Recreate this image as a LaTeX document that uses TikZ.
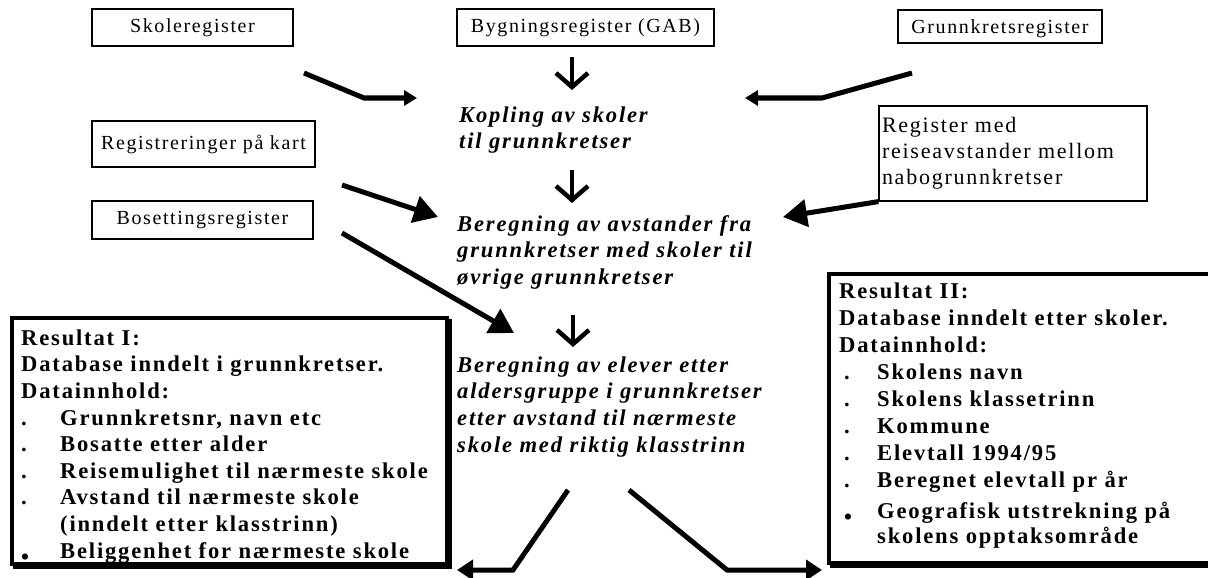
\documentclass[tikz,border=0pt]{standalone}
\usepackage{fontspec}
\setmainfont{Liberation Serif}[LetterSpace=8]
\usetikzlibrary{arrows.meta,calc}
\newcommand\topst{\vrule height 16pt depth 0pt width 0pt}
\newcommand\bulone[1]{\makebox[39pt][l]{#1}}
\newcommand\bultwo[1]{\makebox[38pt][l]{\hspace{5pt}#1}}
\newcommand\bigdot{\raisebox{-6pt}{•}}
\begin{document}
\begin{tikzpicture}[x=1pt,y=-1pt,
  regbox/.style={draw, line width=1.2pt, inner sep=0pt, font=\fontsize{20}{24}\selectfont},
  midtext/.style={anchor=north west, inner sep=0pt, align=left, font=\fontsize{22.6}{26.6}\selectfont\bfseries\itshape},
  restext/.style={anchor=north west, inner sep=0pt, align=left, font=\fontsize{22.6}{26.6}\selectfont\bfseries},
  resframe/.style={draw, line width=4pt, inner sep=0pt},
  elbow/.style={line width=5pt, -{Triangle[length=13pt,width=15pt]}},
  elbowlow/.style={line width=5pt, -{Triangle[length=16pt,width=20pt]}},
  bigarr/.style={line width=5pt, -{Triangle[length=24pt,width=27pt]}},
  downarr/.style={line width=4.5pt, line join=miter}
]
\useasboundingbox (0,0) rectangle (1208,578);
\clip (0,0) rectangle (1208,578);

% input registers
\node[regbox, minimum width=201pt, minimum height=37pt] (skole) at (192.5,27.5) {Skoleregister};
\node[regbox, minimum width=257pt, minimum height=37pt] (byg) at (585.5,27.5) {Bygningsregister (GAB)};
\node[regbox, minimum width=204pt, minimum height=33pt, text depth=0pt] (grunn) at (1000,26.5) {Grunnkretsregister};
\node[regbox, minimum width=223pt, minimum height=46pt] (regkart) at (203.5,144) {Registreringer på kart};
\node[regbox, minimum width=221pt, minimum height=38pt] (boset) at (202.5,220) {Bosettingsregister};
\node[regbox, font=\fontsize{22}{26}\selectfont, align=left, text width=262pt, inner xsep=3pt, minimum height=95pt] (regmed) at (1013,153.5) {Register med\\reiseavstander mellom\\nabogrunnkretser};

% processing steps
\node[midtext] (kop) at (459,106) {\topst Kopling av skoler\\til grunnkretser};
\node[midtext] (avst) at (457,215) {\topst Beregning av avstander fra\\grunnkretser med skoler til\\øvrige grunnkretser};
\node[midtext] (elev) at (457,356) {\topst Beregning av elever etter\\aldersgruppe i grunnkretser\\etter avstand til nærmeste\\skole med riktig klasstrinn};

% result boxes
\draw[line width=4pt] (15,321) rectangle (450,567);
\node[resframe, fill=white, minimum width=435pt, minimum height=246pt] (res1box) at (229.5,441) {};
\draw[line width=4pt] (832,277) rectangle (1223,566);
\node[resframe, fill=white, minimum width=391pt, minimum height=289pt] (res2box) at (1024.5,418.5) {};

\node[restext] (res1) at (21,329) {\topst Resultat I:\\Database inndelt i grunnkretser.\\Datainnhold:\\\bulone{.}Grunnkretsnr, navn etc\\\bulone{.}Bosatte etter alder\\\bulone{.}Reisemulighet til nærmeste skole\\\bulone{.}Avstand til nærmeste skole\\\bulone{}(inndelt etter klasstrinn)\\\bulone{\bigdot}Beliggenhet for nærmeste skole};
\node[restext, font=\fontsize{22.6}{27}\selectfont\bfseries] (res2) at (839,282) {\topst Resultat II:\\Database inndelt etter skoler.\\Datainnhold:\\\bultwo{.}Skolens navn\\\bultwo{.}Skolens klassetrinn\\\bultwo{.}Kommune\\\bultwo{.}Elevtall 1994/95\\\bultwo{.}Beregnet elevtall pr år\\[4pt]\bultwo{\bigdot}Geografisk utstrekning på\\[-2pt]\bultwo{}skolens opptaksområde};

% arrow end points
\coordinate (a1s) at (304,73);  \coordinate (a1m) at (364,98);  \coordinate (a1e) at (417,98);
\coordinate (a2s) at (912,73);  \coordinate (a2m) at (822,98);  \coordinate (a2e) at (745,98);
\coordinate (a3s) at (342,185); \coordinate (a3e) at (438,217);
\coordinate (a4e) at (783,217);
\coordinate (a5s) at (342,233); \coordinate (a5e) at (514,333);
\coordinate (a6s) at (568,490); \coordinate (a6m) at (513,570); \coordinate (a6e) at (457,570);
\coordinate (a7s) at (629,490); \coordinate (a7m) at (727,570); \coordinate (a7e) at (822,570);
\coordinate (d1s) at (572,57);  \coordinate (d1e) at (572,87);
\coordinate (d2s) at (572,170); \coordinate (d2e) at (572,200);
\coordinate (d3s) at (573,315); \coordinate (d3e) at (573,344);

% connectors
\draw[elbow] (a1s) -- (a1m) -- (a1e);
\draw[elbow] (a2s) -- (a2m) -- (a2e);
\draw[bigarr] (a3s) -- (a3e);
\draw[bigarr] (regmed.south west) -- (a4e);
\draw[bigarr] (a5s) -- (a5e);
\draw[elbowlow] (a6s) -- (a6m) -- (a6e);
\draw[elbowlow] (a7s) -- (a7m) -- (a7e);

\foreach \d in {d1,d2,d3}{
  \draw[downarr] (\d s) -- (\d e);
  \draw[downarr] ($(\d e)+(-16,-14)$) -- (\d e) -- ($(\d e)+(16,-14)$);
}
\end{tikzpicture}
\end{document}
